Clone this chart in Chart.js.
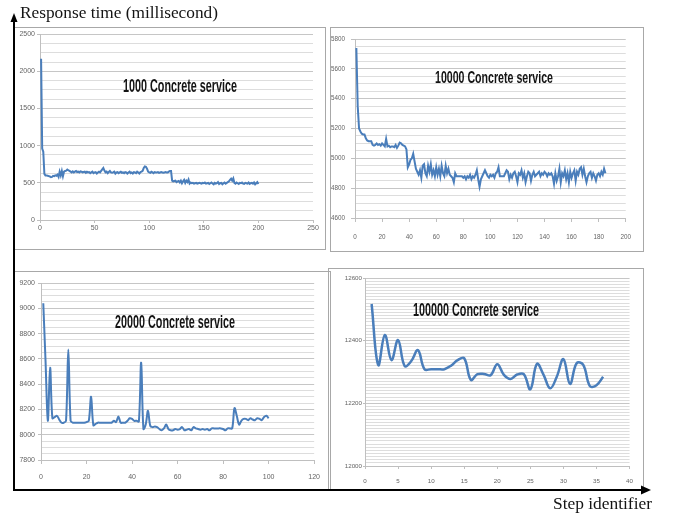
<!DOCTYPE html>
<html><head><meta charset="utf-8">
<script src="https://cdn.jsdelivr.net/npm/chart.js@4"></script>
<style>
html,body{margin:0;padding:0;background:#fff;}
body{width:675px;height:514px;position:relative;overflow:hidden;}
.box{position:absolute;border:1px solid #a8a8a8;box-sizing:border-box;}
canvas{position:absolute;}
.ttl{position:absolute;font-family:"Liberation Sans Narrow","Liberation Sans",sans-serif;font-weight:bold;color:#141414;white-space:nowrap;line-height:1;transform-origin:0 0;}
.serif{position:absolute;font-family:"Liberation Serif","Times New Roman",serif;font-size:16px;color:#141414;white-space:nowrap;line-height:1;transform-origin:0 0;}
svg{position:absolute;left:0;top:0;}
</style></head>
<body>
<div class="box" style="left:14px;top:27px;width:312px;height:223px"></div>
<div class="box" style="left:330px;top:27px;width:314px;height:225px"></div>
<div class="box" style="left:14px;top:271px;width:317px;height:220px"></div>
<div class="box" style="left:328px;top:268px;width:316px;height:223px"></div>
<canvas id="c1" width="310" height="220" style="left:15px;top:28px"></canvas>
<canvas id="c2" width="320" height="222" style="left:322px;top:28px"></canvas>
<canvas id="c3" width="313" height="216" style="left:16px;top:272px"></canvas>
<canvas id="c4" width="313" height="219" style="left:329px;top:269px"></canvas>
<svg width="675" height="514">
<line x1="14" y1="491" x2="14" y2="20" stroke="#000" stroke-width="2"/>
<polygon points="14,13 10.5,22 17.5,22" fill="#000"/>
<line x1="13" y1="490" x2="643" y2="490" stroke="#000" stroke-width="2"/>
<polygon points="651,490 641,485.5 641,494.5" fill="#000"/>
</svg>
<div id="t1" class="ttl" data-w="114" style="left:123px;top:77px;font-size:18px"></div>
<div id="t2" class="ttl" data-w="118" style="left:435px;top:70px;font-size:16px"></div>
<div id="t3" class="ttl" data-w="120" style="left:115px;top:313px;font-size:18px"></div>
<div id="t4" class="ttl" data-w="126" style="left:413px;top:301px;font-size:18px"></div>
<div id="ylab" class="serif" data-w="198" style="left:20px;top:5px"></div>
<div id="xlab" class="serif" data-w="99" style="left:553px;top:496px"></div>
<script>
const panelTitles = ["1000 Concrete service", "10000 Concrete service", "20000 Concrete service", "100000 Concrete service"];
const yAxisTitle = "Response time (millisecond)";
const xAxisTitle = "Step identifier";

// [min, max, major step, minor step]
const yRange1000 = [0, 2500, 500, 125];
const yRange10000 = [4600, 5800, 200, 50];
const yRange20000 = [7800, 9200, 200, 50];
const yRange100000 = [12000, 12600, 200, 10];
// [min, max, step]
const xRange1000 = [0, 250, 50];
const xRange10000 = [0, 200, 20];
const xRange20000 = [0, 120, 20];
const xRange100000 = [0, 40, 5];

const resp1000 = [
2170,960,920,620,600,600,595,590,585,575,
580,595,590,600,595,610,580,650,600,660,
590,650,660,665,680,670,660,650,640,655,
640,650,660,645,650,640,655,650,640,645,
650,635,650,640,645,630,640,650,630,640,
645,625,640,650,640,660,680,700,665,640,
650,630,645,660,640,635,640,650,625,640,
645,630,640,650,635,640,630,645,640,625,
640,650,630,640,625,645,640,630,650,640,
625,645,650,660,700,720,715,690,650,640,
635,650,640,630,645,640,640,645,635,640,
645,640,635,640,645,640,640,650,660,660,
530,520,525,530,510,520,525,505,530,495,
520,540,500,530,510,545,490,505,495,500,
490,495,500,490,495,500,495,490,500,495,
505,490,495,500,485,495,505,490,480,500,
490,495,510,485,495,500,480,495,505,490,
500,510,520,540,555,530,560,500,490,505,
495,485,500,495,505,490,485,500,495,490,
505,485,495,500,490,505,480,495,510,485];

const resp10000 = [
5740,5350,5200,5180,5165,5160,5160,5135,5120,5115,
5115,5115,5090,5085,5090,5100,5090,5095,5085,5100,
5090,5080,5130,5080,5085,5075,5080,5080,5075,5090,
5070,5085,5105,5100,5090,5085,5080,5060,4940,4960,
4990,5000,5030,4980,4930,4910,4890,4920,4870,4950,
4960,4900,4880,4950,4910,4960,4890,4920,4880,4940,
4890,4930,4880,4950,4900,4880,4950,4900,4930,4890,
4880,4870,4840,4900,4880,4880,4880,4880,4880,4870,
4880,4860,4880,4870,4890,4860,4880,4870,4890,4920,
4860,4810,4860,4880,4900,4920,4900,4880,4870,4890,
4880,4890,4870,4900,4910,4940,4880,4880,4880,4880,
4900,4920,4910,4860,4890,4870,4900,4910,4880,4840,
4900,4890,4920,4870,4900,4840,4880,4910,4900,4850,
4890,4910,4880,4890,4900,4910,4880,4900,4890,4910,
4900,4880,4900,4890,4900,4880,4830,4900,4850,4880,
4930,4840,4900,4880,4920,4860,4900,4840,4910,4870,
4900,4920,4850,4910,4890,4930,4940,4890,4930,4880,
4840,4880,4900,4910,4870,4900,4880,4850,4890,4900,
4880,4910,4890,4930,4900];

const resp20000 = [
9040,8580,8110,8530,8130,8140,8150,8120,8095,8095,
8110,8675,8110,8095,8095,8095,8095,8095,8095,8100,
8110,8300,8075,8085,8095,8095,8095,8095,8095,8095,
8095,8110,8100,8145,8095,8095,8095,8110,8130,8125,
8110,8110,8105,8570,8045,8080,8190,8070,8060,8065,
8060,8045,8035,8050,8080,8045,8035,8035,8045,8040,
8045,8060,8035,8040,8045,8035,8060,8050,8045,8040,
8045,8040,8045,8035,8050,8050,8050,8050,8050,8045,
8035,8050,8050,8050,8210,8150,8080,8110,8125,8125,
8115,8130,8120,8115,8130,8125,8115,8140,8150,8130];

const resp100000 = [
12517,12322,12418,12338,12402,12319,12335,12370,12309,12309,
12309,12309,12320,12338,12344,12275,12293,12294,12290,12325,
12291,12278,12292,12293,12245,12326,12291,12248,12285,12341,
12262,12328,12323,12255,12258,12285];

const FONT = '"Liberation Sans","Arial",sans-serif';
const LINE = '#4a7ebb';

function makeChart(id, values, xr, yr, g, tension) {
  const pts = values.map((v, i) => ({x: i + 1, y: v}));
  return new Chart(document.getElementById(id), {
    type: 'line',
    data: {datasets: [{data: pts, borderColor: LINE, borderWidth: g.lw, pointRadius: 0, tension: tension, fill: false}]},
    options: {
      responsive: false, animation: false, events: [],
      layout: {padding: {top: g.pt, right: g.pr, left: 0, bottom: 0}},
      plugins: {legend: {display: false}, tooltip: {enabled: false}, title: {display: false}},
      scales: {
        x: {
          type: 'linear', min: xr[0], max: xr[1],
          ticks: {stepSize: xr[2], autoSkip: false, maxRotation: 0, padding: g.xp, color: '#646464',
                  font: {family: FONT, size: g.fs}, callback: v => String(v)},
          grid: {drawOnChartArea: false, drawTicks: true, tickLength: g.xt, color: '#bfbfbf'},
          border: {display: true, color: '#bfbfbf'},
          afterFit: s => { s.height = g.xh; }
        },
        y: {
          min: yr[0], max: yr[1],
          ticks: {stepSize: yr[3], autoSkip: false, padding: g.yp, color: '#646464',
                  font: {family: FONT, size: g.fs},
                  callback: v => (Math.round(v) % yr[2] === 0 ? String(Math.round(v)) : '')},
          grid: {
            drawTicks: true, tickLength: g.yt,
            color: c => (c.tick && Math.round(c.tick.value) % yr[2] === 0 ? '#c6c6c6' : '#dddddd'),
            tickColor: c => (c.tick && Math.round(c.tick.value) % yr[2] === 0 ? '#bfbfbf' : 'rgba(0,0,0,0)')
          },
          border: {display: true, color: '#bfbfbf'},
          afterFit: s => { s.width = g.yw; }
        }
      }
    }
  });
}

makeChart('c1', resp1000, xRange1000, yRange1000,
  {pt: 6, pr: 12, yw: 25, xh: 28, yt: 3, yp: 2, xt: 3, xp: 1, fs: 7, lw: 2}, 0);
makeChart('c2', resp10000, xRange10000, yRange10000,
  {pt: 11, pr: 15, yw: 33, xh: 32, yt: 4, yp: 6, xt: 4, xp: 11, fs: 6.3, lw: 2}, 0);
makeChart('c3', resp20000, xRange20000, yRange20000,
  {pt: 11, pr: 14, yw: 25, xh: 28, yt: 3, yp: 3, xt: 4, xp: 9, fs: 7, lw: 2}, 0.35);
makeChart('c4', resp100000, xRange100000, yRange100000,
  {pt: 9, pr: 12, yw: 36, xh: 22, yt: 2, yp: 1, xt: 3, xp: 9, fs: 6.2, lw: 2.5}, 0.4);

['t1','t2','t3','t4'].forEach((id, i) => { document.getElementById(id).textContent = panelTitles[i]; });
document.getElementById('ylab').textContent = yAxisTitle;
document.getElementById('xlab').textContent = xAxisTitle;
document.querySelectorAll('.ttl, .serif').forEach(el => {
  const w = el.getBoundingClientRect().width;
  el.style.transform = 'scaleX(' + (el.dataset.w / w) + ')';
});
</script>
</body></html>
